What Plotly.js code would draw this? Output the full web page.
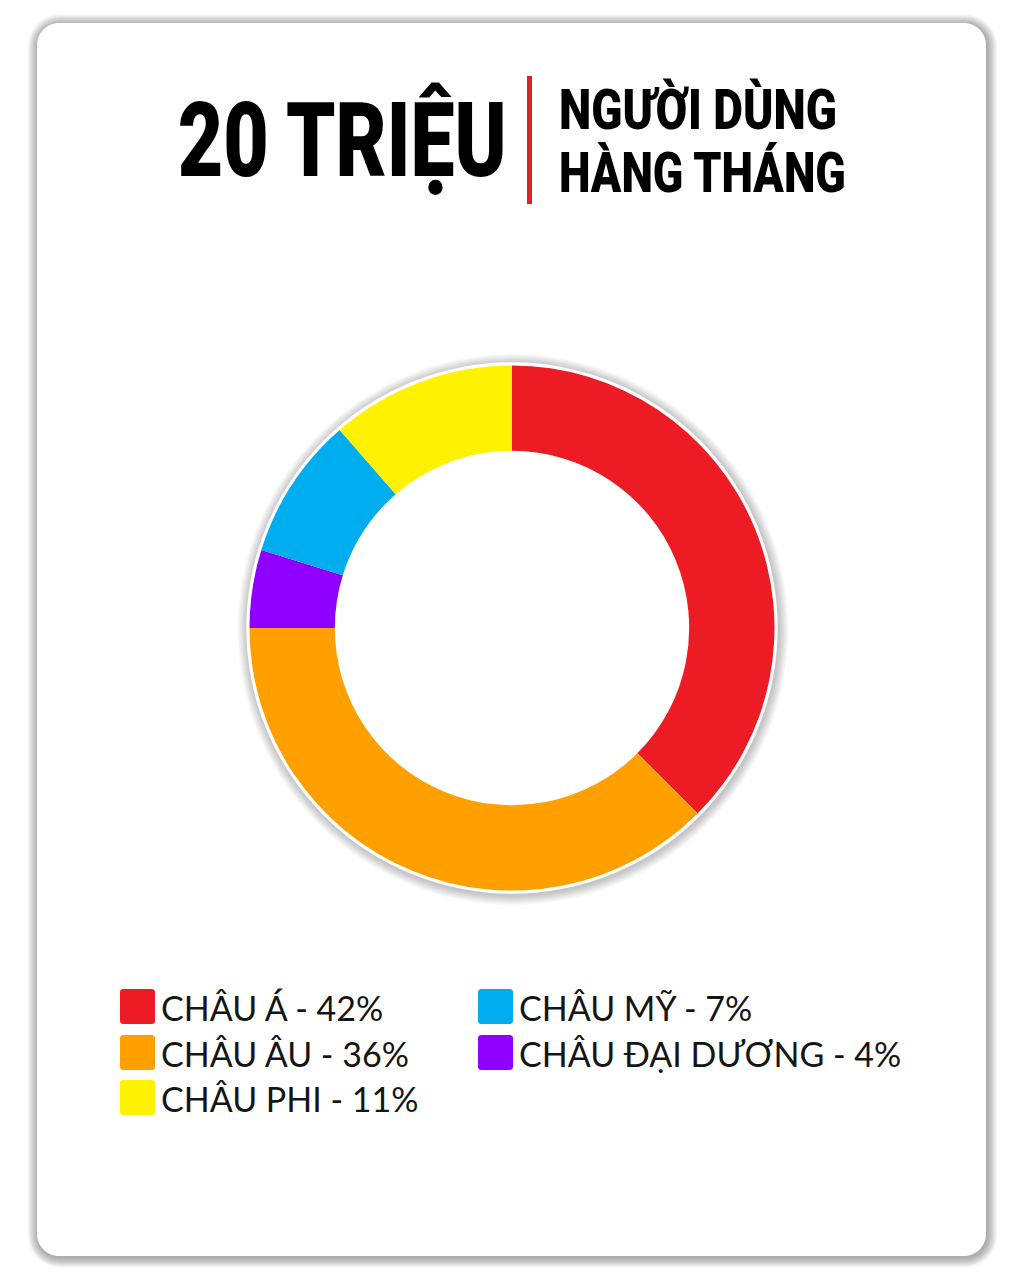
<!DOCTYPE html>
<html>
<head>
<meta charset="utf-8">
<script src="https://cdn.plot.ly/plotly-3.0.1.min.js"></script>
<style>
html,body{margin:0;padding:0;background:#ffffff;}
#chart{width:1024px;height:1280px;}
</style>
</head>
<body>
<div id="chart"></div>
<script>
// ---- data (slices in drawing order, clockwise from 12 o'clock) ----
const regions = ['CHÂU Á', 'CHÂU ÂU', 'CHÂU ĐẠI DƯƠNG', 'CHÂU MỸ', 'CHÂU PHI'];
const drawnShare = [37.5, 37.5, 4.8, 8.8, 11.4];   // share as drawn in the ring
const sliceColors = ['#ED1C24', '#FFA000', '#9000FF', '#00AEEF', '#FFF200'];

// ---- legend (as printed) ----
const legendRegions = ['CHÂU Á', 'CHÂU ÂU', 'CHÂU PHI', 'CHÂU MỸ', 'CHÂU ĐẠI DƯƠNG'];
const legendPct = ['42%', '36%', '11%', '7%', '4%'];

// ---- titles ----
const titleMain = '20 TRIỆU';
const titleSub = ['NGƯỜI DÙNG', 'HÀNG THÁNG'];

const W = 1024, H = 1280;
const X = x => x / W;
const Y = y => 1 - y / H;

function rrPath(x0, y0, x1, y1, r) {
  const k = 0.5523 * r;
  const p = (x, y) => X(x).toFixed(6) + ',' + Y(y).toFixed(6);
  return 'M' + p(x0 + r, y0) +
    ' L' + p(x1 - r, y0) +
    ' C' + p(x1 - r + k, y0) + ' ' + p(x1, y0 + r - k) + ' ' + p(x1, y0 + r) +
    ' L' + p(x1, y1 - r) +
    ' C' + p(x1, y1 - r + k) + ' ' + p(x1 - r + k, y1) + ' ' + p(x1 - r, y1) +
    ' L' + p(x0 + r, y1) +
    ' C' + p(x0 + r - k, y1) + ' ' + p(x0, y1 - r + k) + ' ' + p(x0, y1 - r) +
    ' L' + p(x0, y0 + r) +
    ' C' + p(x0, y0 + r - k) + ' ' + p(x0 + r - k, y0) + ' ' + p(x0 + r, y0) + ' Z';
}

const shapes = [];
// card shadow
const card = {x0: 37, y0: 23, x1: 986, y1: 1256, r: 22};
for (let i = 10; i >= 1; i--) {
  shapes.push({type: 'path', xref: 'paper', yref: 'paper', layer: 'below',
    path: rrPath(card.x0 - i + 1, card.y0 - i + 1.5, card.x1 + i + 1, card.y1 + i + 1.5, card.r + i),
    fillcolor: 'rgba(0,0,0,0.035)', line: {width: 0}});
}
shapes.push({type: 'path', xref: 'paper', yref: 'paper', layer: 'below',
  path: rrPath(card.x0, card.y0, card.x1, card.y1, card.r),
  fillcolor: '#ffffff', line: {width: 0}});

// donut geometry
const cx = 512, cy = 628, R = 262.5;
for (let i = 10; i >= 1; i--) {
  const rr = R + 3 + i;
  shapes.push({type: 'circle', xref: 'paper', yref: 'paper', layer: 'below',
    x0: X(cx - rr + 1), x1: X(cx + rr + 1), y0: Y(cy + rr + 1.5), y1: Y(cy - rr + 1.5),
    fillcolor: 'rgba(0,0,0,0.024)', line: {width: 0}});
}
shapes.push({type: 'circle', xref: 'paper', yref: 'paper', layer: 'below',
  x0: X(cx - R - 3.2), x1: X(cx + R + 3.2), y0: Y(cy + R + 3.2), y1: Y(cy - R - 3.2),
  fillcolor: '#ffffff', line: {width: 0}});

// red separator line in title
shapes.push({type: 'rect', xref: 'paper', yref: 'paper', layer: 'above',
  x0: X(527), x1: X(532), y0: Y(204), y1: Y(76),
  fillcolor: '#E31E24', line: {width: 0}});

// legend squares + text
const annotations = [];
const colX = [120, 478];
const rowY = [1006.5, 1052.5, 1097.5];
legendRegions.forEach((name, i) => {
  const col = i < 3 ? 0 : 1;
  const row = i < 3 ? i : i - 3;
  const color = sliceColors[regions.indexOf(name)];
  const x0 = colX[col], yc = rowY[row], s = 35;
  shapes.push({type: 'path', xref: 'paper', yref: 'paper', layer: 'above',
    path: rrPath(x0, yc - s / 2, x0 + s, yc + s / 2, 3),
    fillcolor: color, line: {width: 0}});
  annotations.push({xref: 'paper', yref: 'paper', x: X(x0 + s + 4), y: Y(yc + 1),
    xanchor: 'left', yanchor: 'middle', showarrow: false, align: 'left',
    text: name + ' - ' + legendPct[i],
    font: {family: 'Lato, "Open Sans", sans-serif', size: 34, color: '#151515', weight: 400}});
});

// titles (condensed horizontally to the reference widths after drawing)
const fitWidths = {};
fitWidths[titleMain] = 329;
fitWidths[titleSub[0]] = 278;
fitWidths[titleSub[1]] = 287;
annotations.push({xref: 'paper', yref: 'paper', x: X(509), y: Y(141),
  xanchor: 'right', yanchor: 'middle', align: 'right', showarrow: false,
  text: titleMain, font: {family: 'Roboto, Inter, sans-serif', size: 104, color: '#000000', weight: 900}});
annotations.push({xref: 'paper', yref: 'paper', x: X(557), y: Y(110),
  xanchor: 'left', yanchor: 'middle', align: 'left', showarrow: false,
  text: titleSub[0], font: {family: 'Roboto, Inter, sans-serif', size: 56, color: '#000000', weight: 900}});
annotations.push({xref: 'paper', yref: 'paper', x: X(557), y: Y(173),
  xanchor: 'left', yanchor: 'middle', align: 'left', showarrow: false,
  text: titleSub[1], font: {family: 'Roboto, Inter, sans-serif', size: 56, color: '#000000', weight: 900}});

const trace = {
  type: 'pie',
  labels: regions,
  values: drawnShare,
  marker: {colors: sliceColors, line: {width: 0}},
  sort: false,
  direction: 'clockwise',
  rotation: 0,
  hole: 0.675,
  textinfo: 'none',
  hoverinfo: 'skip',
  showlegend: false,
  domain: {x: [X(cx - R), X(cx + R)], y: [Y(cy + R), Y(cy - R)]}
};

const layout = {
  width: W, height: H,
  margin: {l: 0, r: 0, t: 0, b: 0, pad: 0},
  paper_bgcolor: '#ffffff',
  plot_bgcolor: '#ffffff',
  showlegend: false,
  shapes: shapes,
  annotations: annotations
};

Plotly.newPlot('chart', [trace], layout, {displayModeBar: false, staticPlot: true}).then(gd => {
  gd.querySelectorAll('.annotation-text').forEach(t => {
    const w = fitWidths[t.textContent];
    if (!w) return;
    const natural = t.getComputedTextLength();
    if (!natural) return;
    const s = w / natural;
    const ax = parseFloat(t.getAttribute('x')) || 0;
    const prev = t.getAttribute('transform') || '';
    t.setAttribute('transform', prev + ' translate(' + ax + ',0) scale(' + s + ',1) translate(' + (-ax) + ',0)');
  });
});
</script>
</body>
</html>
